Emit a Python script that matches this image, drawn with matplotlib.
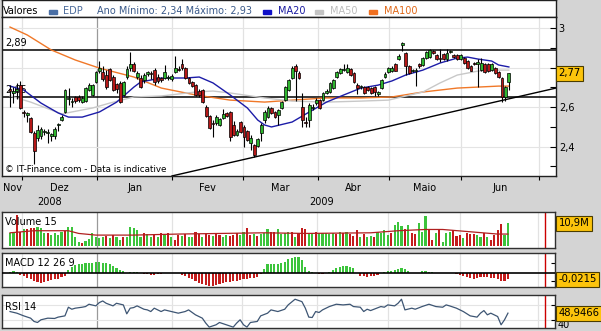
import numpy as np
import matplotlib
matplotlib.use("Agg")
import matplotlib.pyplot as plt
import matplotlib.transforms as mtransforms
from matplotlib.patches import Rectangle

# ---------------- data (EDP daily candles, trading-day index) ----------------
open_ = [2.69, 2.67, 2.68, 2.71, 2.575, 2.56, 2.545, 2.47, 2.445, 2.455,
         2.475, 2.47, 2.455, 2.455, 2.51, 2.535, 2.575, 2.64, 2.625, 2.65,
         2.65, 2.625, 2.63, 2.685, 2.66, 2.725, 2.78, 2.775, 2.76, 2.795,
         2.75, 2.715, 2.72, 2.66, 2.75, 2.80, 2.82, 2.75, 2.745, 2.735,
         2.765, 2.77, 2.79, 2.75, 2.745, 2.745, 2.745, 2.74, 2.775, 2.795,
         2.82, 2.80, 2.745, 2.725, 2.71, 2.68, 2.685, 2.60, 2.555, 2.52,
         2.52, 2.51, 2.545, 2.57, 2.575, 2.51, 2.46, 2.525, 2.50, 2.48,
         2.42, 2.41, 2.405, 2.47, 2.535, 2.55, 2.595, 2.575, 2.56, 2.595,
         2.635, 2.685, 2.745, 2.81, 2.77, 2.60, 2.525, 2.535, 2.595, 2.62,
         2.635, 2.635, 2.67, 2.675, 2.695, 2.75, 2.77, 2.79, 2.775, 2.795,
         2.77, 2.71, 2.70, 2.70, 2.70, 2.695, 2.70, 2.665, 2.695, 2.75,
         2.775, 2.78, 2.82, 2.845, 2.915, 2.875, 2.81, 2.78, 2.78, 2.82,
         2.815, 2.85, 2.855, 2.885, 2.865, 2.85, 2.87, 2.845, 2.88, 2.865,
         2.865, 2.845, 2.85, 2.835, 2.81, 2.825, 2.82, 2.79, 2.82, 2.82,
         2.79, 2.80, 2.775, 2.745, 2.65, 2.725]
high = [2.71, 2.70, 2.72, 2.73, 2.585, 2.575, 2.55, 2.48, 2.51, 2.50,
        2.49, 2.49, 2.47, 2.50, 2.52, 2.56, 2.69, 2.695, 2.645, 2.655,
        2.66, 2.655, 2.70, 2.72, 2.715, 2.785, 2.835, 2.81, 2.79, 2.80,
        2.76, 2.72, 2.73, 2.73, 2.81, 2.88, 2.83, 2.78, 2.76, 2.77,
        2.78, 2.785, 2.80, 2.765, 2.75, 2.815, 2.76, 2.765, 2.86, 2.81,
        2.845, 2.805, 2.75, 2.73, 2.715, 2.69, 2.69, 2.61, 2.56, 2.535,
        2.56, 2.545, 2.59, 2.575, 2.58, 2.53, 2.49, 2.53, 2.51, 2.485,
        2.46, 2.415, 2.445, 2.52, 2.585, 2.605, 2.60, 2.58, 2.59, 2.63,
        2.705, 2.74, 2.81, 2.82, 2.78, 2.67, 2.55, 2.62, 2.615, 2.645,
        2.64, 2.675, 2.69, 2.725, 2.74, 2.78, 2.80, 2.82, 2.82, 2.80,
        2.775, 2.72, 2.71, 2.705, 2.705, 2.70, 2.705, 2.68, 2.74, 2.775,
        2.805, 2.81, 2.825, 2.87, 2.93, 2.88, 2.815, 2.795, 2.80, 2.825,
        2.855, 2.885, 2.895, 2.89, 2.87, 2.895, 2.875, 2.895, 2.89, 2.87,
        2.87, 2.87, 2.855, 2.84, 2.815, 2.83, 2.845, 2.85, 2.825, 2.825,
        2.825, 2.805, 2.78, 2.75, 2.705, 2.77]
low = [2.60, 2.62, 2.64, 2.59, 2.55, 2.525, 2.47, 2.31, 2.43, 2.44,
       2.46, 2.42, 2.43, 2.44, 2.48, 2.53, 2.57, 2.61, 2.60, 2.62,
       2.625, 2.62, 2.625, 2.68, 2.655, 2.72, 2.77, 2.73, 2.69, 2.73,
       2.68, 2.67, 2.62, 2.655, 2.74, 2.78, 2.775, 2.74, 2.695, 2.72,
       2.755, 2.74, 2.71, 2.72, 2.725, 2.74, 2.735, 2.73, 2.77, 2.78,
       2.79, 2.74, 2.715, 2.70, 2.655, 2.65, 2.62, 2.55, 2.49, 2.45,
       2.51, 2.505, 2.54, 2.55, 2.43, 2.455, 2.455, 2.47, 2.40, 2.43,
       2.38, 2.345, 2.40, 2.43, 2.52, 2.545, 2.565, 2.545, 2.51, 2.59,
       2.63, 2.68, 2.74, 2.63, 2.74, 2.50, 2.50, 2.50, 2.585, 2.61,
       2.59, 2.63, 2.665, 2.67, 2.69, 2.745, 2.765, 2.785, 2.77, 2.755,
       2.72, 2.665, 2.69, 2.665, 2.68, 2.665, 2.655, 2.655, 2.69, 2.745,
       2.77, 2.775, 2.78, 2.84, 2.885, 2.76, 2.765, 2.775, 2.705, 2.80,
       2.81, 2.845, 2.85, 2.87, 2.84, 2.83, 2.84, 2.835, 2.875, 2.85,
       2.84, 2.84, 2.82, 2.795, 2.78, 2.815, 2.70, 2.785, 2.77, 2.775,
       2.785, 2.765, 2.745, 2.625, 2.63, 2.685]
close = [2.68, 2.68, 2.69, 2.595, 2.57, 2.57, 2.475, 2.375, 2.485, 2.49,
         2.48, 2.475, 2.465, 2.49, 2.515, 2.55, 2.685, 2.645, 2.63, 2.63,
         2.635, 2.645, 2.695, 2.71, 2.71, 2.775, 2.80, 2.74, 2.70, 2.735,
         2.685, 2.69, 2.625, 2.725, 2.795, 2.82, 2.78, 2.77, 2.70, 2.76,
         2.775, 2.765, 2.725, 2.73, 2.735, 2.775, 2.75, 2.755, 2.80, 2.79,
         2.80, 2.745, 2.72, 2.705, 2.66, 2.66, 2.625, 2.555, 2.495, 2.515,
         2.55, 2.54, 2.565, 2.555, 2.45, 2.46, 2.48, 2.475, 2.45, 2.435,
         2.445, 2.355, 2.44, 2.51, 2.575, 2.595, 2.57, 2.55, 2.585, 2.625,
         2.70, 2.735, 2.80, 2.785, 2.745, 2.535, 2.52, 2.61, 2.60, 2.635,
         2.595, 2.67, 2.68, 2.72, 2.735, 2.775, 2.795, 2.795, 2.80, 2.76,
         2.725, 2.695, 2.705, 2.67, 2.685, 2.67, 2.675, 2.675, 2.735, 2.765,
         2.80, 2.80, 2.785, 2.86, 2.925, 2.81, 2.77, 2.79, 2.79, 2.81,
         2.85, 2.88, 2.89, 2.875, 2.845, 2.845, 2.845, 2.875, 2.885, 2.855,
         2.845, 2.865, 2.825, 2.80, 2.785, 2.82, 2.83, 2.825, 2.775, 2.78,
         2.82, 2.77, 2.75, 2.65, 2.70, 2.77]

# moving averages (at sample days)
ma20_idx = [0, 4, 9, 14, 17, 21, 26, 31, 36, 38, 44, 51, 55, 59, 64, 69, 72, 74, 76, 82,
            87, 92, 97, 102, 107, 111, 115, 120, 125, 130, 133, 136, 140, 142, 145]
ma20_val = [2.706, 2.686, 2.620, 2.570, 2.549, 2.549, 2.575, 2.625, 2.701, 2.727,
            2.747, 2.747, 2.752, 2.722, 2.661, 2.595, 2.534, 2.509, 2.499, 2.524,
            2.575, 2.625, 2.661, 2.696, 2.711, 2.732, 2.762, 2.787, 2.823, 2.848,
            2.853, 2.843, 2.833, 2.813, 2.803]
ma50_idx = [0, 6, 15, 24, 29, 36, 44, 54, 59, 64, 74, 82, 92, 102, 110, 120, 125, 130, 136, 142, 145]
ma50_val = [2.656, 2.625, 2.565, 2.595, 2.620, 2.651, 2.656, 2.676, 2.681, 2.671, 2.646,
            2.630, 2.625, 2.630, 2.635, 2.676, 2.722, 2.762, 2.782, 2.787, 2.787]
ma100_idx = [0, 5, 12, 19, 26, 36, 44, 54, 64, 74, 82, 92, 102, 111, 120, 130, 142, 145]
ma100_val = [3.005, 2.965, 2.889, 2.838, 2.797, 2.752, 2.696, 2.661, 2.635, 2.625,
             2.635, 2.646, 2.646, 2.651, 2.676, 2.696, 2.706, 2.706]

levels = [2.89, 2.65]
level_labels = ["2,89", "2,65"]
trend_idx = [47.1, 158.7]
trend_val = [2.251, 2.696]

# volume (millions) and up/down colour
volume = [5.9, 6.2, 14.7, 6.7, 7.8, 7.8, 8.3, 8.3, 8.8, 8.3,
          5.9, 5.9, 5.1, 5.9, 5.1, 6.7, 7.2, 9.1, 8.8, 4.3,
          1.9, 1.4, 2.4, 3.0, 5.9, 4.3, 3.5, 4.3, 4.6, 3.5,
          5.1, 4.3, 2.7, 4.0, 4.3, 9.1, 8.3, 7.5, 4.3, 5.9,
          5.6, 4.3, 5.1, 4.3, 5.9, 5.1, 5.9, 4.3, 2.7, 5.1,
          4.6, 5.6, 4.3, 4.3, 6.7, 5.6, 4.3, 5.6, 5.1, 4.6,
          6.2, 5.1, 4.3, 5.1, 4.6, 5.1, 5.9, 5.1, 6.7, 8.3,
          5.1, 5.6, 4.6, 5.6,
          5.9, 7.8, 6.7, 6.7, 7.8, 5.6, 5.9, 6.7, 6.7, 4.3,
          6.2, 8.3, 7.8, 5.9, 6.2, 6.7, 5.9, 5.9, 5.9, 5.6,
          5.9, 5.6, 6.7, 5.9, 6.7, 5.6, 4.6, 7.5, 4.3, 5.6,
          4.0, 4.6, 4.3, 6.7, 6.2, 7.5, 5.1, 5.9, 9.9, 11.5,
          9.4, 7.8, 9.9, 6.2, 5.6, 11.0, 6.7, 14.2, 7.8, 2.7,
          5.9, 7.8, 1.9, 5.9, 6.7, 7.5, 4.6, 5.1, 3.5, 5.9,
          5.6, 5.6, 5.1, 4.3, 5.9, 4.3, 2.7, 5.1, 7.5, 10.4,
          5.1, 10.9]
volume_dir = ("ggrrgrrrgg" "grggggrggg" "grggggggrg" "rggrgggggr" "ggrgrgrgrr"
              "grggrrgrrg" "rrggrrrggr" "rgrg"
              "ggrrggggrg" "rrrggrgggg" "grgrgrrrgr" "ggrggggrgg" "grgrrgggrr"
              "grgggrrrgr" "rrggrgrrrr" "gg")
volma_idx = [0, 7, 17, 20, 25, 36, 49, 74, 86, 105, 113, 121, 126, 134, 142, 145]
volma_val = [6.2, 7.2, 7.2, 5.9, 5.1, 5.1, 5.6, 6.2, 5.9, 6.2, 7.2, 7.8, 7.8, 6.7, 5.6, 5.6]

macd = [0.006, 0.008, 0.004, -0.006, -0.010, -0.016, -0.023, -0.029, -0.034, -0.035,
        -0.033, -0.029, -0.025, -0.023, -0.020, -0.015, -0.010, 0.013, 0.023, 0.031,
        0.035, 0.036, 0.038, 0.038, 0.039, 0.041, 0.041, 0.040, 0.038, 0.034,
        0.028, 0.020, 0.013, 0.008, 0.000, 0.006, 0.006, 0.005, 0.000, -0.001,
        -0.004, -0.005, -0.005, -0.004, -0.001, 0.000, 0.001, 0.001, 0.000, 0.000,
        -0.005, -0.010, -0.016, -0.023, -0.029, -0.035, -0.040, -0.045, -0.048, -0.047,
        -0.044, -0.040, -0.038, -0.034, -0.031, -0.029, -0.028, -0.025, -0.023, -0.020,
        -0.019, -0.016, -0.013, -0.003, 0.015, 0.035, 0.035, 0.035, 0.035, 0.038,
        0.044, 0.053, 0.059, 0.063, 0.062, 0.050, 0.025, 0.008, 0.004, 0.003,
        -0.003, -0.004, 0.000, 0.006, 0.013, 0.019, 0.025, 0.028, 0.028, 0.025,
        0.019, 0.003, -0.009, -0.011, -0.013, -0.011, -0.010, -0.005, 0.000, 0.005,
        0.008, 0.010, 0.014, 0.018, 0.020, 0.016, 0.009, 0.003, 0.000, 0.001,
        0.008, 0.008, 0.006, 0.005, 0.001, 0.000, 0.000, 0.000, 0.000, 0.000,
        -0.004, -0.006, -0.010, -0.015, -0.019, -0.021, -0.019, -0.015, -0.014, -0.015,
        -0.019, -0.019, -0.023, -0.029, -0.028, -0.0215]

rsi_idx = [0, 2, 4, 6, 7, 8, 9, 11, 13, 14, 16, 17, 18, 19, 21, 22, 23, 25, 26, 27,
           28, 30, 31, 33, 34, 35, 36, 37, 39, 40, 41, 42, 44, 45, 47, 49, 51, 52, 54, 56,
           57, 58, 60, 61, 63, 65, 66, 67, 68, 69, 70, 72, 73, 75, 76, 78, 80, 81, 83, 85,
           86, 87, 88, 89, 90, 91, 93, 95, 97, 99, 100, 102, 103, 104, 105, 106, 108, 109, 110, 112,
           113, 114, 115, 117, 118, 120, 122, 124, 126, 127, 128, 130, 132, 134, 136, 137, 138, 139, 140, 142,
           143, 144, 145]
rsi_val = [51.1, 48.9, 45.3, 42.2, 37.8, 36.4, 40.0, 42.2, 41.8, 43.6,
           45.3, 56.9, 54.2, 55.6, 56.9, 57.8, 60.9, 58.7, 63.1, 65.3,
           62.2, 58.7, 62.2, 60.0, 48.0, 55.6, 56.4, 58.7, 54.2, 53.3,
           51.1, 55.6, 51.1, 53.3, 51.1, 48.9, 51.1, 53.3, 46.7, 42.2,
           35.6, 30.2, 33.3, 36.4, 33.3, 30.2, 35.6, 40.0, 33.3, 30.2,
           36.4, 37.8, 45.3, 48.9, 53.3, 51.1, 54.2, 60.0, 67.6, 64.4,
           55.6, 43.6, 43.1, 51.1, 49.8, 53.3, 57.8, 60.9, 60.0, 60.9,
           57.8, 56.9, 51.1, 54.2, 52.4, 54.2, 57.8, 56.9, 60.0, 58.7,
           62.2, 67.6, 53.3, 55.6, 54.2, 57.8, 60.9, 57.8, 56.9, 60.0,
           58.7, 55.6, 51.1, 45.3, 43.6, 48.9, 52.4, 46.7, 48.9, 44.4,
           33.3, 40.0, 48.9466]

months = ["Nov", "Dez", "Jan", "Fev", "Mar", "Abr", "Maio", "Jun"]
month_bounds = [3.5, 25.3, 47.2, 67.7, 89.5, 110.2, 131.0, 153.8]   # first trading day of Dez..Jul
years = ["2008", "2009"]
year_bound = 25.3
today_idx = 155.8

# ---------------- figure ----------------
W, H = 601, 331
BG = "#d4d4d4"
GREEN = "#2fb52f"
RED = "#b51818"
VGREEN = "#3cc43c"
VRED = "#c41c1c"
plt.rcParams["font.family"] = ["DejaVu Sans"]

fig = plt.figure(figsize=(W / 100, H / 100), dpi=100)
fig.patch.set_facecolor(BG)


def add_box(x0, y0, x1, y1):
    return fig.add_axes([x0 / W, 1 - y1 / H, (x1 - x0) / W, (y1 - y0) / H])


o = np.array(open_); hi = np.array(high); lo = np.array(low); c = np.array(close)
x = np.arange(len(c))
XL = (-2.33, 158.7)

leg = add_box(2, 0, 556, 17)
ax = add_box(2, 17, 556, 176)
axv = add_box(2, 212, 555, 248)
axm = add_box(2, 253, 555, 287)
axr = add_box(2, 295, 555, 328)

# ----- legend band -----
leg.set_xlim(0, 554); leg.set_ylim(17, 0)
leg.set_xticks([]); leg.set_yticks([])
leg.set_facecolor("white")
for s in leg.spines.values():
    s.set_color("#202020"); s.set_linewidth(1)
FS = 7
leg.text(1, 11, "Valores", fontsize=FS, va="center", color="black")
items = [(47, "#4a6fa5", 61, "EDP", "#4a6a9a"),
         (261, "#1010c8", 276, "MA20", "#1a1aa0"),
         (313, "#c4c4c4", 328, "MA50", "#bdbdbd"),
         (367, "#f07020", 382, "MA100", "#e06818")]
for sx, scol, tx, txt, tcol in items:
    leg.add_patch(Rectangle((sx, 10), 8, 3.5, color=scol))
    leg.text(tx, 11, txt, fontsize=FS, va="center", color=tcol)
leg.text(95, 11, "Ano Mínimo: 2,34 Máximo: 2,93", fontsize=FS, va="center", color="#3a5a8a")

# ----- main price panel -----
ax.set_facecolor("white")
ax.set_xlim(*XL)
ax.set_ylim(2.2506, 3.056)
for b in month_bounds:
    ax.axvline(b, color="#9a9a9a" if b == year_bound else "#e2e2e2", lw=0.9, zorder=0)
for yv in [2.4, 2.6, 2.8, 3.0]:
    ax.axhline(yv, color="#e4e4e4", lw=0.8, zorder=0)
for lv, lab in zip(levels, level_labels):
    ax.annotate(lab, xy=(0, lv), xycoords=(ax.transAxes, ax.transData), xytext=(3, 2),
                textcoords="offset pixels", va="bottom", ha="left", fontsize=FS, zorder=1)
    ax.axhline(lv, color="black", lw=1.1, zorder=2)
ax.plot(trend_idx, trend_val, color="black", lw=1.0, zorder=2)
ax.plot(ma100_idx, ma100_val, color="#f07828", lw=1.0, zorder=2.2)
ax.plot(ma50_idx, ma50_val, color="#c8c8c8", lw=1.0, zorder=2.2)
ax.plot(ma20_idx, ma20_val, color="#1c1ca8", lw=1.0, zorder=2.3)
ax.vlines(x, lo, hi, color="black", lw=0.8, zorder=3)
cols = [GREEN if cc >= oo else RED for oo, cc in zip(o, c)]
ax.bar(x, np.maximum(np.abs(c - o), 0.004), bottom=np.minimum(o, c), width=0.82,
       color=cols, edgecolor="black", linewidth=0.5, zorder=4)
ax.text(0.005, 0.04, "© IT-Finance.com - Data is indicative", transform=ax.transAxes,
        fontsize=6.3, va="center", ha="left", zorder=5)

ax.set_xticks(month_bounds)
ax.tick_params(axis="x", direction="out", length=3, width=0.8, labelbottom=False, colors="black")
ax.yaxis.tick_right()
ytv = [2.3, 2.4, 2.5, 2.6, 2.7, 2.8, 2.9, 3.0]
ax.set_yticks(ytv)
# the 2,8 label is hidden under the last-price tag in the reference
ax.set_yticklabels(["", "2,4", "", "2,6", "", "", "", "3"])
ax.tick_params(axis="y", direction="in", length=4, width=0.8, labelsize=FS, pad=2)
for s in ax.spines.values():
    s.set_color("#202020"); s.set_linewidth(1)

# month & year labels
tr = mtransforms.blended_transform_factory(ax.transData, fig.transFigure)
edges = [XL[0]] + month_bounds
for i, m in enumerate(months):
    mid = (edges[i] + edges[i + 1]) / 2
    fig.text(mid, 1 - 188 / H, m, transform=tr, ha="center", va="center", fontsize=FS)
fig.text((XL[0] + year_bound) / 2, 1 - 202 / H, years[0], transform=tr, ha="center", va="center", fontsize=FS)
fig.text((year_bound + today_idx) / 2, 1 - 202 / H, years[1], transform=tr, ha="center", va="center", fontsize=FS)


def tag(a, val, text, dx):
    a.annotate(text, xy=(1, val), xycoords=(a.transAxes, a.transData), xytext=(dx, 0),
               textcoords="offset pixels", ha="left", va="center", fontsize=7.2, color="black",
               bbox=dict(boxstyle="square,pad=0.25", fc="#fcc40c", ec="#4a3c00", lw=0.8),
               zorder=20, annotation_clip=False)


tag(ax, close[-1], f"{close[-1]:.2f}".replace(".", ","), 2.5)


def style_sub(a):
    a.set_facecolor("white")
    a.set_xlim(*XL)
    a.set_xticks([])
    for b in month_bounds:
        a.axvline(b, color="#9a9a9a" if b == year_bound else "#e2e2e2", lw=0.9, zorder=0)
    a.axvline(today_idx, color="#cc0000", lw=1.0, zorder=1)
    for s in a.spines.values():
        s.set_color("#303030"); s.set_linewidth(1)


# ----- volume -----
style_sub(axv)
axv.set_ylim(-1.1, 16.2)
axv.set_yticks([])
axv.bar(x, volume, width=0.62, color=[VGREEN if d == "g" else VRED for d in volume_dir], zorder=2)
axv.plot(volma_idx, volma_val, color="#b02020", lw=0.9, zorder=3)
axv.text(0.005, 0.72, "Volume 15", transform=axv.transAxes, fontsize=FS, va="center", zorder=5)
tag(axv, volume[-1], f"{volume[-1]:.1f}M".replace(".", ","), 3.5)

# ----- MACD -----
style_sub(axm)
axm.set_ylim(-0.0516, 0.0765)
axm.bar(x, macd, width=0.62, color=[VGREEN if v >= 0 else VRED for v in macd], zorder=2)
axm.axhline(0, color="black", lw=1.2, zorder=3)
axm.yaxis.tick_right()
axm.set_yticks([-0.03, 0.04])
axm.set_yticklabels(["", ""])
axm.tick_params(axis="y", direction="in", length=3, width=0.8)
axm.text(0.005, 0.72, "MACD 12 26 9", transform=axm.transAxes, fontsize=FS, va="center", zorder=5)
tag(axm, macd[-1], f"{macd[-1]:.4f}".replace(".", ","), 3.5)

# ----- RSI -----
style_sub(axr)
axr.set_ylim(29, 73.3)
for yv in [40, 60]:
    axr.axhline(yv, color="#e4e4e4", lw=0.8, zorder=0)
axr.plot(rsi_idx, rsi_val, color="#3d5573", lw=0.9, zorder=3)
axr.yaxis.tick_right()
axr.set_yticks([40, 60])
axr.set_yticklabels(["40", ""])
axr.tick_params(axis="y", direction="in", length=3, width=0.8, labelsize=FS, pad=2)
for lbl in axr.get_yticklabels():
    lbl.set_va("top")
axr.text(0.005, 0.65, "RSI 14", transform=axr.transAxes, fontsize=FS, va="center", zorder=5)
tag(axr, rsi_val[-1], f"{rsi_val[-1]:.4f}".replace(".", ","), 3.5)

fig.savefig("out.png", dpi=100, facecolor=BG)
